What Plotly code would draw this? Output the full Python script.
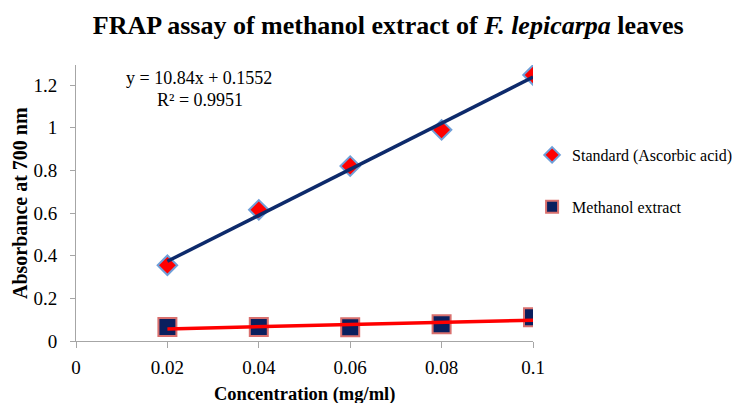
import numpy as np
import plotly.graph_objects as go

conc = [0.02, 0.04, 0.06, 0.08, 0.1]
standard = [0.355, 0.615, 0.82, 0.99, 1.247]
methanol = [0.066, 0.066, 0.064, 0.078, 0.111]

x_ticks = [0, 0.02, 0.04, 0.06, 0.08, 0.1]
x_ticktext = ["0", "0.02", "0.04", "0.06", "0.08", "0.1"]
y_ticks = [0, 0.2, 0.4, 0.6, 0.8, 1.0, 1.2]
y_ticktext = ["0", "0.2", "0.4", "0.6", "0.8", "1", "1.2"]

FONT = "Liberation Serif"

fig = go.Figure()

fig.add_trace(go.Scatter(
    x=conc, y=standard, mode="markers", name="Standard (Ascorbic acid)",
    legendgroup="a",
    marker=dict(symbol="diamond", size=15, color="#ff0000",
                line=dict(color="#6f9fd8", width=2)),
))
fig.add_trace(go.Scatter(
    x=conc, y=methanol, mode="markers", name="Methanol extract",
    legendgroup="b",
    marker=dict(symbol="square", size=18, color="#0a1f5e",
                line=dict(color="#d9706e", width=2)),
))

# linear trendlines computed from the data
xs = np.array(conc)
for ys, col in [(standard, "#0d2a6b"), (methanol, "#ff0000")]:
    m, b = np.polyfit(xs, np.array(ys), 1)
    fig.add_trace(go.Scatter(
        x=[xs[0], xs[-1]], y=[m * xs[0] + b, m * xs[-1] + b], mode="lines",
        line=dict(color=col, width=3.5), showlegend=False, hoverinfo="skip",
    ))

fig.update_layout(
    width=750, height=403,
    margin=dict(l=68, r=225, t=57, b=70),
    paper_bgcolor="white", plot_bgcolor="white",
    font=dict(family=FONT, color="black", size=16),
    title=dict(
        text="<b>FRAP assay of methanol extract of <i>F. lepicarpa</i> leaves</b>",
        x=0.507, xanchor="center", y=0.958, yanchor="middle",
        font=dict(family=FONT, size=26, color="black"),
    ),
    showlegend=True,
    legend=dict(
        x=0.998, y=0.7355, xanchor="left", yanchor="top",
        font=dict(family=FONT, size=16, color="black"),
        tracegroupgap=28, itemsizing="constant",
        bgcolor="rgba(0,0,0,0)",
    ),
    xaxis=dict(
        range=[0, 0.1], tickvals=x_ticks, ticktext=x_ticktext,
        showgrid=False, zeroline=False, showline=True, linecolor="#a6a6a6",
        linewidth=1, ticks="outside", ticklen=6, tickcolor="#a6a6a6",
        tickfont=dict(family=FONT, size=19), automargin=False,
        ticklabelstandoff=3,
    ),
    yaxis=dict(
        range=[0, 1.294], tickvals=y_ticks, ticktext=y_ticktext,
        showgrid=False, zeroline=False, showline=True, linecolor="#a6a6a6",
        linewidth=1, ticks="outside", ticklen=5, tickcolor="#a6a6a6",
        tickfont=dict(family=FONT, size=19), automargin=False,
        ticklabelstandoff=9,
    ),
    annotations=[
        dict(text="y = 10.84x + 0.1552", x=0.27, y=0.953, xref="paper", yref="paper",
             xanchor="center", yanchor="middle", showarrow=False,
             font=dict(family=FONT, size=18)),
        dict(text="R² = 0.9951", x=0.272, y=0.873, xref="paper", yref="paper",
             xanchor="center", yanchor="middle", showarrow=False,
             font=dict(family=FONT, size=18)),
        dict(text="<b>Concentration (mg/ml)</b>", x=0.5, y=-0.195,
             xref="paper", yref="paper", xanchor="center", yanchor="middle",
             showarrow=False, font=dict(family=FONT, size=18.5)),
        dict(text="<b>Absorbance at 700 nm</b>", x=-0.1225, y=0.5,
             xref="paper", yref="paper", xanchor="center", yanchor="middle",
             textangle=-90, showarrow=False, font=dict(family=FONT, size=20)),
    ],
)

fig.write_html("out.html")
